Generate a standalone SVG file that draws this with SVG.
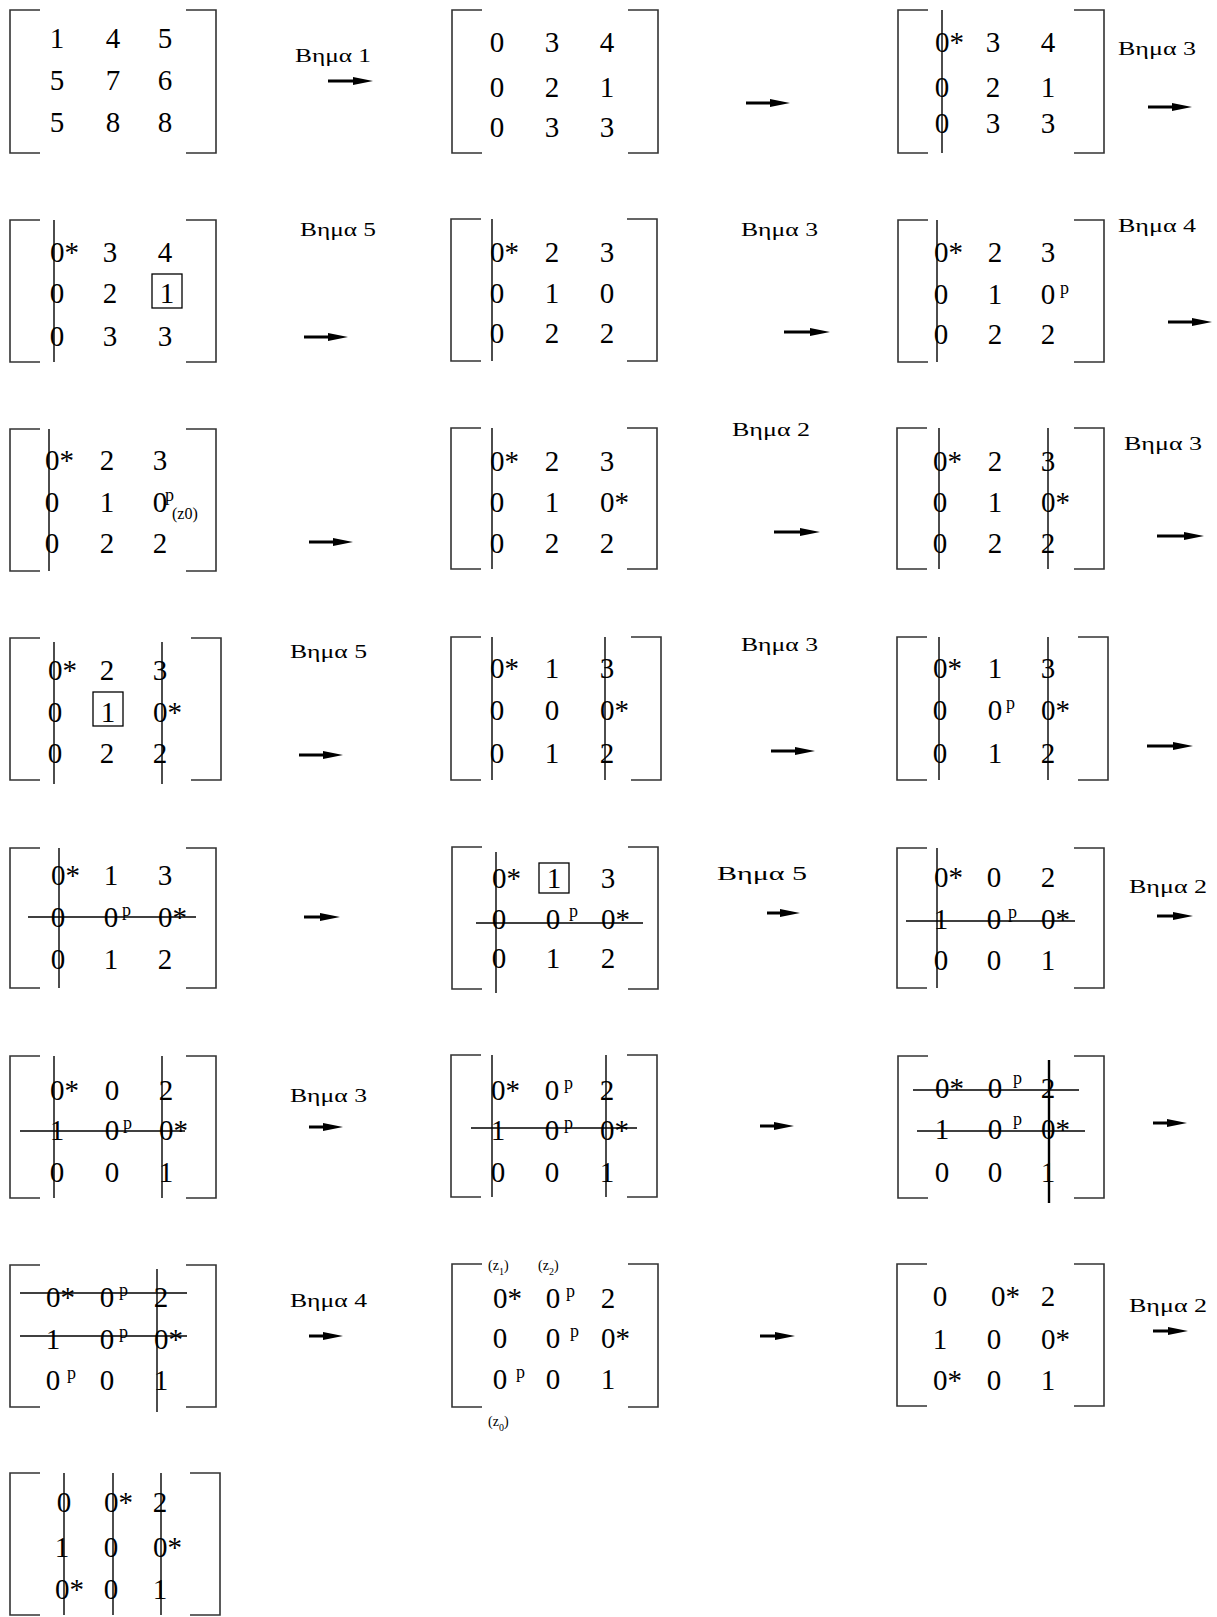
<svg xmlns="http://www.w3.org/2000/svg" width="1217" height="1617" viewBox="0 0 1217 1617">
<style>
.br{fill:none;stroke:#333;stroke-width:1.6}
.ln{stroke:#000;stroke-width:1.4}
.bx{fill:none;stroke:#000;stroke-width:1.3}
.d{font-family:"Liberation Serif",serif;font-size:29px;text-anchor:middle;fill:#000}
.ds{font-family:"Liberation Serif",serif;font-size:29px;fill:#000}
.p{font-family:"Liberation Serif",serif;font-size:18px;fill:#000}
.z{font-family:"Liberation Serif",serif;font-size:14px;fill:#000}
.lb{font-family:"Liberation Serif",serif;font-size:19px;fill:#000}
.ar{stroke:#000;stroke-width:3;marker-end:url(#ah)}
</style>
<defs>
<marker id="ah" markerUnits="userSpaceOnUse" markerWidth="20" markerHeight="10" refX="10" refY="5" orient="auto"><path d="M0,1 L20,5 L0,9 z" fill="#000"/></marker>
</defs>
<rect width="1217" height="1617" fill="#fff"/>

<g id="m1">
<path class="br" d="M40,10H10V153H40M186,10H216V153H186"/>
<text class="d" x="57" y="48">1</text><text class="d" x="113" y="48">4</text><text class="d" x="165" y="48">5</text>
<text class="d" x="57" y="90">5</text><text class="d" x="113" y="90">7</text><text class="d" x="165" y="90">6</text>
<text class="d" x="57" y="132">5</text><text class="d" x="113" y="132">8</text><text class="d" x="165" y="132">8</text>
</g>
<g id="m2">
<path class="br" d="M482,10H452V153H482M628,10H658V153H628"/>
<text class="d" x="497" y="52">0</text><text class="d" x="552" y="52">3</text><text class="d" x="607" y="52">4</text>
<text class="d" x="497" y="97">0</text><text class="d" x="552" y="97">2</text><text class="d" x="607" y="97">1</text>
<text class="d" x="497" y="137">0</text><text class="d" x="552" y="137">3</text><text class="d" x="607" y="137">3</text>
</g>
<g id="m3">
<path class="br" d="M928,10H898V153H928M1074,10H1104V153H1074"/>
<text class="ds" x="935" y="52">0*</text><text class="d" x="993" y="52">3</text><text class="d" x="1048" y="52">4</text>
<text class="d" x="942" y="97">0</text><text class="d" x="993" y="97">2</text><text class="d" x="1048" y="97">1</text>
<text class="d" x="942" y="133">0</text><text class="d" x="993" y="133">3</text><text class="d" x="1048" y="133">3</text>
<line class="ln" x1="942" y1="10" x2="942" y2="153"/>
</g>

<g id="m4">
<path class="br" d="M40,220H10V362H40M186,220H216V362H186"/>
<text class="ds" x="50" y="262">0*</text><text class="d" x="110" y="262">3</text><text class="d" x="165" y="262">4</text>
<text class="d" x="57" y="303">0</text><text class="d" x="110" y="303">2</text><text class="d" x="167" y="303">1</text>
<text class="d" x="57" y="346">0</text><text class="d" x="110" y="346">3</text><text class="d" x="165" y="346">3</text>
<rect class="bx" x="152" y="274" width="30" height="34"/>
<line class="ln" x1="54" y1="220" x2="54" y2="362"/>
</g>
<g id="m5">
<path class="br" d="M481,219H451V361H481M627,219H657V361H627"/>
<text class="ds" x="490" y="262">0*</text><text class="d" x="552" y="262">2</text><text class="d" x="607" y="262">3</text>
<text class="d" x="497" y="303">0</text><text class="d" x="552" y="303">1</text><text class="d" x="607" y="303">0</text>
<text class="d" x="497" y="343">0</text><text class="d" x="552" y="343">2</text><text class="d" x="607" y="343">2</text>
<line class="ln" x1="492" y1="219" x2="492" y2="361"/>
</g>
<g id="m6">
<path class="br" d="M928,220H898V362H928M1074,220H1104V362H1074"/>
<text class="ds" x="934" y="262">0*</text><text class="d" x="995" y="262">2</text><text class="d" x="1048" y="262">3</text>
<text class="d" x="941" y="304">0</text><text class="d" x="995" y="304">1</text><text class="d" x="1048" y="304">0</text><text class="p" x="1060" y="294">p</text>
<text class="d" x="941" y="344">0</text><text class="d" x="995" y="344">2</text><text class="d" x="1048" y="344">2</text>
<line class="ln" x1="937" y1="220" x2="937" y2="362"/>
</g>

<g id="m7">
<path class="br" d="M40,429H10V571H40M186,429H216V571H186"/>
<text class="ds" x="45" y="470">0*</text><text class="d" x="107" y="470">2</text><text class="d" x="160" y="470">3</text>
<text class="d" x="52" y="512">0</text><text class="d" x="107" y="512">1</text><text class="d" x="160" y="512">0</text><text class="p" x="165" y="501">p</text><text class="z" x="172" y="519" style="font-size:16px">(z0)</text>
<text class="d" x="52" y="553">0</text><text class="d" x="107" y="553">2</text><text class="d" x="160" y="553">2</text>
<line class="ln" x1="49" y1="429" x2="49" y2="571"/>
</g>
<g id="m8">
<path class="br" d="M481,428H451V569H481M627,428H657V569H627"/>
<text class="ds" x="490" y="471">0*</text><text class="d" x="552" y="471">2</text><text class="d" x="607" y="471">3</text>
<text class="d" x="497" y="512">0</text><text class="d" x="552" y="512">1</text><text class="ds" x="600" y="512">0*</text>
<text class="d" x="497" y="553">0</text><text class="d" x="552" y="553">2</text><text class="d" x="607" y="553">2</text>
<line class="ln" x1="492" y1="428" x2="492" y2="569"/>
</g>
<g id="m9">
<path class="br" d="M927,428H897V569H927M1074,428H1104V569H1074"/>
<text class="ds" x="933" y="471">0*</text><text class="d" x="995" y="471">2</text><text class="d" x="1048" y="471">3</text>
<text class="d" x="940" y="512">0</text><text class="d" x="995" y="512">1</text><text class="ds" x="1041" y="512">0*</text>
<text class="d" x="940" y="553">0</text><text class="d" x="995" y="553">2</text><text class="d" x="1048" y="553">2</text>
<line class="ln" x1="939" y1="428" x2="939" y2="569"/>
<line class="ln" x1="1048" y1="428" x2="1048" y2="569"/>
</g>

<g id="m10">
<path class="br" d="M40,638H10V780H40M191,638H221V780H191"/>
<text class="ds" x="48" y="680">0*</text><text class="d" x="107" y="680">2</text><text class="d" x="160" y="680">3</text>
<text class="d" x="55" y="722">0</text><text class="d" x="108" y="722">1</text><text class="ds" x="153" y="722">0*</text>
<text class="d" x="55" y="763">0</text><text class="d" x="107" y="763">2</text><text class="d" x="160" y="763">2</text>
<rect class="bx" x="93" y="692" width="30" height="34"/>
<line class="ln" x1="54" y1="642" x2="54" y2="784"/>
<line class="ln" x1="162" y1="642" x2="162" y2="784"/>
</g>
<g id="m11">
<path class="br" d="M481,637H451V780H481M631,637H661V780H631"/>
<text class="ds" x="490" y="678">0*</text><text class="d" x="552" y="678">1</text><text class="d" x="607" y="678">3</text>
<text class="d" x="497" y="720">0</text><text class="d" x="552" y="720">0</text><text class="ds" x="600" y="720">0*</text>
<text class="d" x="497" y="763">0</text><text class="d" x="552" y="763">1</text><text class="d" x="607" y="763">2</text>
<line class="ln" x1="492" y1="637" x2="492" y2="780"/>
<line class="ln" x1="605" y1="637" x2="605" y2="780"/>
</g>
<g id="m12">
<path class="br" d="M927,637H897V780H927M1078,637H1108V780H1078"/>
<text class="ds" x="933" y="678">0*</text><text class="d" x="995" y="678">1</text><text class="d" x="1048" y="678">3</text>
<text class="d" x="940" y="720">0</text><text class="d" x="995" y="720">0</text><text class="p" x="1006" y="709">p</text><text class="ds" x="1041" y="720">0*</text>
<text class="d" x="940" y="763">0</text><text class="d" x="995" y="763">1</text><text class="d" x="1048" y="763">2</text>
<line class="ln" x1="939" y1="637" x2="939" y2="780"/>
<line class="ln" x1="1048" y1="637" x2="1048" y2="780"/>
</g>

<g id="m13">
<path class="br" d="M40,848H10V988H40M186,848H216V988H186"/>
<text class="ds" x="51" y="885">0*</text><text class="d" x="111" y="885">1</text><text class="d" x="165" y="885">3</text>
<text class="d" x="58" y="927">0</text><text class="d" x="111" y="927">0</text><text class="p" x="122" y="916">p</text><text class="ds" x="158" y="927">0*</text>
<text class="d" x="58" y="969">0</text><text class="d" x="111" y="969">1</text><text class="d" x="165" y="969">2</text>
<line class="ln" x1="59" y1="848" x2="59" y2="988"/>
<line class="ln" x1="28" y1="917" x2="196" y2="917"/>
</g>
<g id="m14">
<path class="br" d="M482,847H452V989H482M628,847H658V989H628"/>
<text class="ds" x="492" y="888">0*</text><text class="d" x="554" y="888">1</text><text class="d" x="608" y="888">3</text>
<text class="d" x="499" y="929">0</text><text class="d" x="553" y="929">0</text><text class="p" x="569" y="917">p</text><text class="ds" x="601" y="929">0*</text>
<text class="d" x="499" y="968">0</text><text class="d" x="553" y="968">1</text><text class="d" x="608" y="968">2</text>
<rect class="bx" x="539" y="863" width="30" height="30"/>
<line class="ln" x1="496" y1="852" x2="496" y2="993"/>
<line class="ln" x1="476" y1="923" x2="643" y2="923"/>
</g>
<g id="m15">
<path class="br" d="M927,848H897V988H927M1074,848H1104V988H1074"/>
<text class="ds" x="934" y="887">0*</text><text class="d" x="994" y="887">0</text><text class="d" x="1048" y="887">2</text>
<text class="d" x="941" y="929">1</text><text class="d" x="994" y="929">0</text><text class="p" x="1008" y="918">p</text><text class="ds" x="1041" y="929">0*</text>
<text class="d" x="941" y="970">0</text><text class="d" x="994" y="970">0</text><text class="d" x="1048" y="970">1</text>
<line class="ln" x1="937" y1="848" x2="937" y2="988"/>
<line class="ln" x1="906" y1="921" x2="1075" y2="921"/>
</g>

<g id="m16">
<path class="br" d="M40,1056H10V1198H40M186,1056H216V1198H186"/>
<text class="ds" x="50" y="1100">0*</text><text class="d" x="112" y="1100">0</text><text class="d" x="166" y="1100">2</text>
<text class="d" x="57" y="1140">1</text><text class="d" x="112" y="1140">0</text><text class="p" x="123" y="1129">p</text><text class="ds" x="159" y="1140">0*</text>
<text class="d" x="57" y="1182">0</text><text class="d" x="112" y="1182">0</text><text class="d" x="166" y="1182">1</text>
<line class="ln" x1="54" y1="1056" x2="54" y2="1198"/>
<line class="ln" x1="162" y1="1056" x2="162" y2="1198"/>
<line class="ln" x1="20" y1="1131" x2="185" y2="1131"/>
</g>
<g id="m17">
<path class="br" d="M481,1055H451V1197H481M627,1055H657V1197H627"/>
<text class="ds" x="491" y="1100">0*</text><text class="d" x="552" y="1100">0</text><text class="p" x="564" y="1089">p</text><text class="d" x="607" y="1100">2</text>
<text class="d" x="498" y="1140">1</text><text class="d" x="552" y="1140">0</text><text class="p" x="564" y="1129">p</text><text class="ds" x="600" y="1140">0*</text>
<text class="d" x="498" y="1182">0</text><text class="d" x="552" y="1182">0</text><text class="d" x="607" y="1182">1</text>
<line class="ln" x1="492" y1="1055" x2="492" y2="1197"/>
<line class="ln" x1="606" y1="1055" x2="606" y2="1197"/>
<line class="ln" x1="471" y1="1128" x2="637" y2="1128"/>
</g>
<g id="m18">
<path class="br" d="M928,1056H898V1198H928M1074,1056H1104V1198H1074"/>
<text class="ds" x="935" y="1098">0*</text><text class="d" x="995" y="1098">0</text><text class="p" x="1013" y="1084">p</text><text class="d" x="1048" y="1098">2</text>
<text class="d" x="942" y="1139">1</text><text class="d" x="995" y="1139">0</text><text class="p" x="1013" y="1125">p</text><text class="ds" x="1041" y="1139">0*</text>
<text class="d" x="942" y="1182">0</text><text class="d" x="995" y="1182">0</text><text class="d" x="1048" y="1182">1</text>
<line class="ln" x1="1049" y1="1060" x2="1049" y2="1203" style="stroke-width:2.4"/>
<line class="ln" x1="913" y1="1090" x2="1079" y2="1090"/>
<line class="ln" x1="917" y1="1131" x2="1085" y2="1131"/>
</g>

<g id="m19">
<path class="br" d="M40,1265H10V1407H40M186,1265H216V1407H186"/>
<text class="ds" x="46" y="1307">0*</text><text class="d" x="107" y="1307">0</text><text class="p" x="119" y="1296">p</text><text class="d" x="161" y="1307">2</text>
<text class="d" x="53" y="1349">1</text><text class="d" x="107" y="1349">0</text><text class="p" x="119" y="1338">p</text><text class="ds" x="154" y="1349">0*</text>
<text class="d" x="53" y="1390">0</text><text class="p" x="67" y="1379">p</text><text class="d" x="107" y="1390">0</text><text class="d" x="161" y="1390">1</text>
<line class="ln" x1="157" y1="1269" x2="157" y2="1412"/>
<line class="ln" x1="20" y1="1293" x2="187" y2="1293"/>
<line class="ln" x1="20" y1="1336" x2="187" y2="1336"/>
</g>
<g id="m20">
<path class="br" d="M482,1264H452V1407H482M628,1264H658V1407H628"/>
<text class="z" x="488" y="1270">(z<tspan dy="5" style="font-size:10px">1</tspan><tspan dy="-5">)</tspan></text>
<text class="z" x="538" y="1270">(z<tspan dy="5" style="font-size:10px">2</tspan><tspan dy="-5">)</tspan></text>
<text class="ds" x="493" y="1308">0*</text><text class="d" x="553" y="1308">0</text><text class="p" x="566" y="1297">p</text><text class="d" x="608" y="1308">2</text>
<text class="d" x="500" y="1348">0</text><text class="d" x="553" y="1348">0</text><text class="p" x="570" y="1337">p</text><text class="ds" x="601" y="1348">0*</text>
<text class="d" x="500" y="1389">0</text><text class="p" x="516" y="1378">p</text><text class="d" x="553" y="1389">0</text><text class="d" x="608" y="1389">1</text>
<text class="z" x="488" y="1426">(z<tspan dy="5" style="font-size:10px">0</tspan><tspan dy="-5">)</tspan></text>
</g>
<g id="m21">
<path class="br" d="M927,1264H897V1406H927M1074,1264H1104V1406H1074"/>
<text class="d" x="940" y="1306">0</text><text class="ds" x="991" y="1306">0*</text><text class="d" x="1048" y="1306">2</text>
<text class="d" x="940" y="1349">1</text><text class="d" x="994" y="1349">0</text><text class="ds" x="1041" y="1349">0*</text>
<text class="ds" x="933" y="1390">0*</text><text class="d" x="994" y="1390">0</text><text class="d" x="1048" y="1390">1</text>
</g>

<g id="m22">
<path class="br" d="M40,1473H10V1615H40M190,1473H220V1615H190"/>
<text class="d" x="64" y="1512">0</text><text class="ds" x="104" y="1512">0*</text><text class="d" x="160" y="1512">2</text>
<text class="d" x="62" y="1557">1</text><text class="d" x="111" y="1557">0</text><text class="ds" x="153" y="1557">0*</text>
<text class="ds" x="55" y="1599">0*</text><text class="d" x="111" y="1599">0</text><text class="d" x="160" y="1599">1</text>
<line class="ln" x1="64" y1="1473" x2="64" y2="1615"/>
<line class="ln" x1="113" y1="1473" x2="113" y2="1615"/>
<line class="ln" x1="161" y1="1473" x2="161" y2="1615"/>
</g>

<g id="connectors">
<line class="ar" x1="328" y1="81" x2="363" y2="81"/>
<line class="ar" x1="746" y1="103" x2="780" y2="103"/>
<line class="ar" x1="1148" y1="107" x2="1182" y2="107"/>
<line class="ar" x1="304" y1="337" x2="338" y2="337"/>
<line class="ar" x1="784" y1="332" x2="820" y2="332"/>
<line class="ar" x1="1168" y1="322" x2="1202" y2="322"/>
<line class="ar" x1="309" y1="542" x2="343" y2="542"/>
<line class="ar" x1="774" y1="532" x2="810" y2="532"/>
<line class="ar" x1="1157" y1="536" x2="1194" y2="536"/>
<line class="ar" x1="299" y1="755" x2="333" y2="755"/>
<line class="ar" x1="771" y1="751" x2="805" y2="751"/>
<line class="ar" x1="1147" y1="746" x2="1183" y2="746"/>
<line class="ar" x1="304" y1="917" x2="330" y2="917"/>
<line class="ar" x1="767" y1="913" x2="790" y2="913"/>
<line class="ar" x1="1157" y1="916" x2="1183" y2="916"/>
<line class="ar" x1="309" y1="1127" x2="333" y2="1127"/>
<line class="ar" x1="760" y1="1126" x2="784" y2="1126"/>
<line class="ar" x1="1153" y1="1123" x2="1177" y2="1123"/>
<line class="ar" x1="309" y1="1336" x2="333" y2="1336"/>
<line class="ar" x1="760" y1="1336" x2="785" y2="1336"/>
<line class="ar" x1="1153" y1="1331" x2="1178" y2="1331"/>
</g>

<g id="labels">
<text class="lb" x="295" y="62" textLength="76" lengthAdjust="spacingAndGlyphs">Βημα 1</text>
<text class="lb" x="1118" y="55" textLength="78" lengthAdjust="spacingAndGlyphs">Βημα 3</text>
<text class="lb" x="300" y="236" textLength="76" lengthAdjust="spacingAndGlyphs">Βημα 5</text>
<text class="lb" x="741" y="236" textLength="77" lengthAdjust="spacingAndGlyphs">Βημα 3</text>
<text class="lb" x="1118" y="232" textLength="78" lengthAdjust="spacingAndGlyphs">Βημα 4</text>
<text class="lb" x="732" y="436" textLength="78" lengthAdjust="spacingAndGlyphs">Βημα 2</text>
<text class="lb" x="1124" y="450" textLength="78" lengthAdjust="spacingAndGlyphs">Βημα 3</text>
<text class="lb" x="290" y="658" textLength="77" lengthAdjust="spacingAndGlyphs">Βημα 5</text>
<text class="lb" x="741" y="651" textLength="77" lengthAdjust="spacingAndGlyphs">Βημα 3</text>
<text class="lb" x="717" y="880" textLength="90" lengthAdjust="spacingAndGlyphs">Βημα 5</text>
<text class="lb" x="1129" y="893" textLength="78" lengthAdjust="spacingAndGlyphs">Βημα 2</text>
<text class="lb" x="290" y="1102" textLength="77" lengthAdjust="spacingAndGlyphs">Βημα 3</text>
<text class="lb" x="290" y="1307" textLength="77" lengthAdjust="spacingAndGlyphs">Βημα 4</text>
<text class="lb" x="1129" y="1312" textLength="78" lengthAdjust="spacingAndGlyphs">Βημα 2</text>
</g>
</svg>
